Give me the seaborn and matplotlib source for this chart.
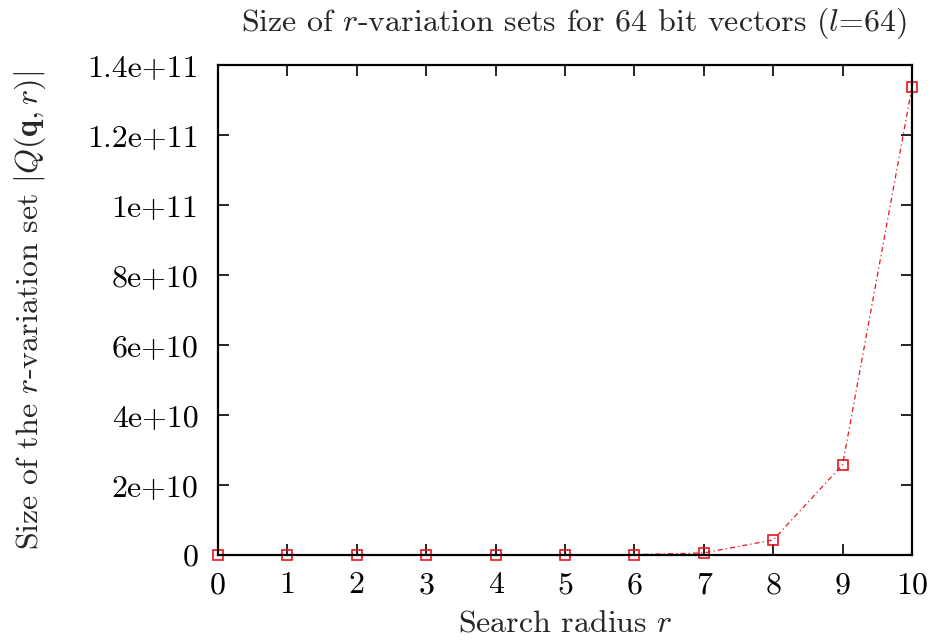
import matplotlib
matplotlib.use("Agg")
import matplotlib.pyplot as plt
import seaborn as sns
import pandas as pd

# Search radius and the size of the r-variation set for l=64
radius = [0, 1, 2, 3, 4, 5, 6, 7, 8, 9, 10]
set_size = [1, 65, 2081, 43745, 679121, 8303633, 83278001,
            6.0e8, 4.3e9, 2.58e10, 1.337e11]

y_ticks = [0, 2e10, 4e10, 6e10, 8e10, 1e11, 1.2e11, 1.4e11]
y_tick_labels = ["0", "2e+10", "4e+10", "6e+10", "8e+10",
                 "1e+11", "1.2e+11", "1.4e+11"]

FS = 23

sns.set_theme(style="ticks")
plt.rcParams["font.family"] = ["cmr10", "DejaVu Serif"]
plt.rcParams["mathtext.fontset"] = "cm"
plt.rcParams["axes.unicode_minus"] = False
plt.rcParams["font.size"] = FS

df = pd.DataFrame({"r": radius, "size": set_size})

fig = plt.figure(figsize=(9.34, 6.42), dpi=100)
ax = fig.add_axes([218 / 934, 1 - 555 / 642, (912 - 218) / 934, (555 - 65) / 642])

sns.lineplot(data=df, x="r", y="size", ax=ax, color="#e8141e",
             linewidth=0.9, marker="s", markersize=6.5,
             markerfacecolor="none", markeredgecolor="#e8141e",
             markeredgewidth=1.2)
line = ax.lines[0]
line.set_linestyle((0, (4, 2.5, 1, 2.5)))
line.set_clip_on(False)

ax.set_xlim(0, 10)
ax.set_ylim(0, 1.4e11)
ax.set_xticks(radius)
ax.set_xticklabels([str(v) for v in radius], fontsize=FS)
ax.set_yticks(y_ticks)
ax.set_yticklabels(y_tick_labels, fontsize=FS)

ax.tick_params(axis="both", direction="in", length=8, width=1.2,
               top=True, right=True, colors="black")
ax.tick_params(axis="x", pad=12)
ax.tick_params(axis="y", pad=14)
for s in ax.spines.values():
    s.set_visible(True)
    s.set_linewidth(1.6)
    s.set_color("black")

ax.set_title(r"Size of $r$-variation sets for 64 bit vectors ($l$=64)",
             fontsize=FS, pad=25, x=0.513)
ax.set_xlabel(r"Search radius $r$", fontsize=FS, labelpad=8)
ax.set_ylabel(r"Size of the $r$-variation set $|Q(\mathbf{q},r)|$",
              fontsize=FS, labelpad=28)

fig.savefig("out.png", dpi=100)
